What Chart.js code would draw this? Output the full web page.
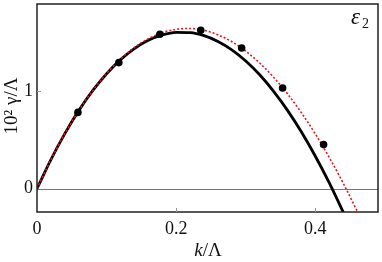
<!DOCTYPE html>
<html><head><meta charset="utf-8">
<script src="https://cdn.jsdelivr.net/npm/chart.js@4/dist/chart.umd.min.js"></script>
<style>html,body{margin:0;padding:0;background:#fff}#wrap{width:382px;height:262px}</style>
</head><body><div id="wrap"><canvas id="c" width="382" height="262"></canvas></div>
<script>
// Data
const pointK = [0.0588, 0.1176, 0.1765, 0.2353, 0.2941, 0.3529, 0.4118];
const pointG = [0.78, 1.29, 1.58, 1.62, 1.44, 1.03, 0.45];
const curveK = [0,0.02,0.04,0.06,0.08,0.10,0.12,0.14,0.16,0.18,0.20,0.22,0.24,0.26,0.28,0.30,0.32,0.34,0.36,0.38,0.40,0.42,0.44,0.46];
const blackG = [0,0.297,0.563,0.798,1.002,1.176,1.320,1.434,1.518,1.573,1.600,1.597,1.566,1.507,1.421,1.306,1.165,0.996,0.801,0.579,0.331,0.058,-0.241,-0.55];
const redG   = [0,0.297,0.562,0.798,1.003,1.179,1.326,1.445,1.535,1.597,1.631,1.639,1.620,1.575,1.504,1.407,1.286,1.140,0.970,0.776,0.558,0.318,0.055,-0.230];
const xTicks = [0, 0.2, 0.4];
const yTicks = [0, 1];
const xLabels = ['0', '0.2', '0.4'];
const yLabels = ['0', '1'];

const xy = (ks, gs) => ks.map((k, i) => ({x: k, y: gs[i]}));
const serif = '"Liberation Serif", "DejaVu Serif", serif';

const decor = {
  id: 'decor',
  beforeDatasetsDraw(chart) {
    const {ctx, chartArea: a, scales: {x, y}} = chart;
    ctx.save();
    ctx.strokeStyle = '#777';
    ctx.lineWidth = 1;
    const y0 = Math.round(y.getPixelForValue(0)) + 0.5;
    ctx.beginPath(); ctx.moveTo(a.left, y0); ctx.lineTo(a.right, y0); ctx.stroke();
    ctx.restore();
  },
  afterDraw(chart) {
    const {ctx, chartArea: a, scales: {x, y}} = chart;
    ctx.save();
    ctx.strokeStyle = '#222';
    ctx.lineWidth = 1.5;
    ctx.strokeRect(a.left, a.top, a.right - a.left, a.bottom - a.top);
    ctx.lineWidth = 1;
    ctx.strokeStyle = '#999';
    ctx.beginPath();
    xTicks.forEach(v => { const p = Math.round(x.getPixelForValue(v)) + 0.5; if (v > 0) { ctx.moveTo(p, a.bottom); ctx.lineTo(p, a.bottom - 4); } });
    yTicks.forEach(v => { const p = Math.round(y.getPixelForValue(v)) + 0.5; if (v > 0) { ctx.moveTo(a.left, p); ctx.lineTo(a.left + 4, p); } });
    ctx.stroke();
    ctx.fillStyle = '#111';
    ctx.textBaseline = 'middle';
    // x title
    ctx.font = 'italic 19px ' + serif;
    const kW = ctx.measureText('k').width;
    ctx.font = '19px ' + serif;
    const rW = ctx.measureText('/Λ').width;
    const cx = 208, cy = 251;
    let sx = cx - (kW + rW) / 2;
    ctx.textAlign = 'left';
    ctx.font = 'italic 19px ' + serif; ctx.fillText('k', sx, cy);
    ctx.font = '19px ' + serif; ctx.fillText('/Λ', sx + kW, cy);
    // y title
    ctx.save();
    ctx.translate(12, 106);
    ctx.rotate(-Math.PI / 2);
    ctx.textAlign = 'center';
    ctx.font = '19px ' + serif;
    ctx.fillText('10² γ/Λ', 0, 0);
    ctx.restore();
    // panel label
    ctx.textAlign = 'left';
    ctx.font = 'italic 23px ' + serif;
    ctx.fillText('ε', 351, 18);
    ctx.font = '14px ' + serif;
    ctx.fillText('2', 362, 24);
    ctx.restore();
  }
};

new Chart(document.getElementById('c'), {
  type: 'scatter',
  data: {
    datasets: [
      {data: xy(pointK, pointG), showLine: false, pointRadius: 3.8, pointBackgroundColor: '#000', pointBorderWidth: 0, order: 0},
      {data: xy(curveK, redG), showLine: true, borderColor: '#e8131b', borderWidth: 1.6, borderDash: [2, 2], pointRadius: 0, tension: 0.4, cubicInterpolationMode: 'monotone', order: 1},
      {data: xy(curveK, blackG), showLine: true, borderColor: '#000', borderWidth: 2.8, pointRadius: 0, tension: 0.4, cubicInterpolationMode: 'monotone', order: 2}
    ]
  },
  options: {
    responsive: false,
    animation: false,
    events: [],
    layout: {padding: {top: 1, right: 1, left: 0, bottom: 0}},
    plugins: {legend: {display: false}, tooltip: {enabled: false}},
    scales: {
      x: {
        type: 'linear', min: 0, max: 0.49,
        afterFit(s) { s.height = 50; s.paddingLeft = 0; s.paddingRight = 0; },
        afterBuildTicks(s) { s.ticks = xTicks.map(v => ({value: v})); },
        grid: {display: false, drawTicks: false},
        border: {display: false},
        ticks: {padding: 6, color: '#111', font: {family: serif, size: 18}, callback: (v) => xLabels[xTicks.indexOf(v)] ?? ''}
      },
      y: {
        type: 'linear', min: -0.24, max: 1.89,
        afterFit(s) { s.width = 37; s.paddingTop = 0; s.paddingBottom = 0; },
        afterBuildTicks(s) { s.ticks = yTicks.map(v => ({value: v})); },
        grid: {display: false, drawTicks: false},
        border: {display: false},
        ticks: {padding: 4, color: '#111', font: {family: serif, size: 18}, callback: (v) => yLabels[yTicks.indexOf(v)] ?? ''}
      }
    }
  },
  plugins: [decor]
});
</script></body></html>
